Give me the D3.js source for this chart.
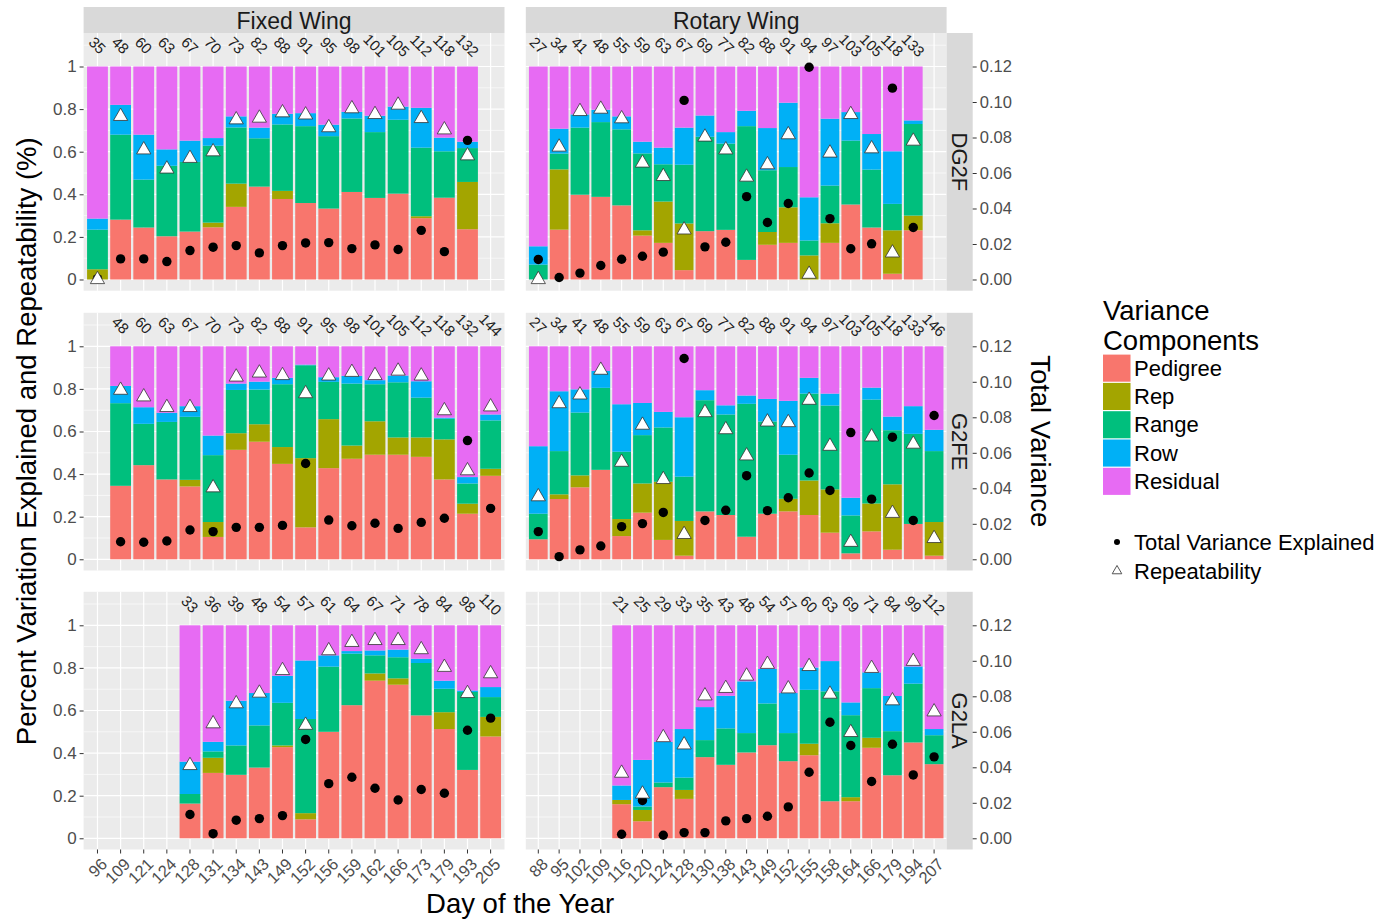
<!DOCTYPE html>
<html>
<head>
<meta charset="utf-8">
<script src="https://cdn.jsdelivr.net/npm/d3@7"></script>
<style>
  body { margin: 0; background: #fff; }
  svg { font-family: "Liberation Sans", Arial, Helvetica, sans-serif; }
</style>
</head>
<body>
<svg id="chart" width="1395" height="921"></svg>
<script>
// x categories (day of the year) for each platform
var fixedDays  = ["96","109","121","124","128","131","134","143","149","152","156","159","162","166","173","179","193","205"];
var rotaryDays = ["88","95","102","109","116","120","124","128","130","138","143","149","152","155","158","164","166","179","194","207"];

var components = ["Pedigree", "Rep", "Range", "Row", "Residual"];
var compColors = ["#F8766D", "#A3A500", "#00BF7D", "#00B0F6", "#E76BF3"];

var yTicks = [0, 0.2, 0.4, 0.6, 0.8, 1];
var varTicks = [0, 0.02, 0.04, 0.06, 0.08, 0.10, 0.12];

// ---- Fixed Wing / DG2F
var fwDg2fDays  = ["96","109","121","124","128","131","134","143","149","152","156","159","162","166","173","179","193"];
var fwDg2fDap   = [35,48,60,63,67,70,73,82,88,91,95,98,101,105,112,118,132];
var fwDg2fPed   = [0,0.281,0.244,0.203,0.225,0.245,0.341,0.436,0.378,0.359,0.333,0.411,0.383,0.403,0.288,0.384,0.236];
var fwDg2fRep   = [0.048,0,0,0,0,0.022,0.109,0,0.038,0,0,0,0,0,0.009,0,0.222];
var fwDg2fRange = [0.186,0.399,0.225,0.331,0.327,0.361,0.264,0.227,0.312,0.361,0.340,0.345,0.309,0.347,0.322,0.218,0.159];
var fwDg2fRow   = [0.052,0.140,0.211,0.077,0.100,0.036,0.052,0.050,0.050,0.061,0.054,0.031,0.077,0.062,0.187,0.064,0.030];
var fwDg2fRepeat = [0,0.766,0.609,0.519,0.569,0.600,0.750,0.758,0.783,0.773,0.713,0.802,0.775,0.819,0.756,0.703,0.581];
var fwDg2fTotVar = [0.0005,0.0116,0.0116,0.0101,0.0163,0.0182,0.0191,0.0150,0.0191,0.0206,0.0208,0.0174,0.0195,0.0169,0.0277,0.0157,0.0784];

// ---- Rotary Wing / DG2F
var rwDg2fDays  = ["88","95","102","109","116","120","124","128","130","138","143","149","152","155","158","164","166","179","194"];
var rwDg2fDap   = [27,34,41,48,55,59,63,67,69,77,82,88,91,94,97,103,105,118,133];
var rwDg2fPed   = [0,0.234,0.398,0.388,0.348,0.206,0.172,0.044,0.227,0.233,0.092,0.163,0.172,0,0.172,0.352,0.244,0.027,0.231];
var rwDg2fRep   = [0,0.283,0,0,0,0.025,0.194,0.219,0,0,0,0.060,0.167,0.113,0.092,0,0,0.204,0.069];
var rwDg2fRange = [0.070,0.074,0.315,0.351,0.357,0.361,0.175,0.276,0.443,0.405,0.628,0.290,0.189,0.070,0.177,0.300,0.272,0.124,0.430];
var rwDg2fRow   = [0.086,0.117,0.062,0.058,0.061,0.055,0.078,0.174,0.100,0.054,0.072,0.198,0.302,0.203,0.314,0.134,0.167,0.247,0.017];
var rwDg2fRepeat = [0,0.622,0.789,0.800,0.755,0.547,0.484,0.233,0.669,0.609,0.481,0.539,0.680,0.025,0.594,0.775,0.614,0.125,0.650];
var rwDg2fTotVar = [0.0113,0.0011,0.0036,0.0079,0.0114,0.0131,0.0154,0.1009,0.0184,0.0210,0.0467,0.0321,0.0428,0.1196,0.0343,0.0173,0.0201,0.1078,0.0293];

// ---- Fixed Wing / G2FE
var fwG2feDays  = ["109","121","124","128","131","134","143","149","152","156","159","162","166","173","179","193","205"];
var fwG2feDap   = [48,60,63,67,70,73,82,88,91,95,98,101,105,112,118,132,144];
var fwG2fePed   = [0.345,0.442,0.375,0.342,0.105,0.514,0.552,0.448,0.150,0.428,0.472,0.491,0.491,0.481,0.375,0.214,0.392];
var fwG2feRep   = [0,0,0,0.031,0.070,0.078,0.082,0.079,0.325,0.230,0.062,0.157,0.081,0.091,0.188,0.047,0.033];
var fwG2feRange = [0.388,0.194,0.270,0.296,0.314,0.203,0.163,0.295,0.436,0.175,0.291,0.174,0.259,0.187,0.097,0.095,0.227];
var fwG2feRow   = [0.081,0.078,0.043,0.050,0.092,0.030,0.037,0.030,0.003,0.022,0.036,0.019,0.032,0.077,0.005,0.030,0.028];
var fwG2feRepeat = [0.794,0.763,0.713,0.713,0.336,0.856,0.875,0.863,0.778,0.861,0.878,0.863,0.884,0.861,0.698,0.416,0.716];
var fwG2feTotVar = [0.0099,0.0096,0.0103,0.0165,0.0156,0.0180,0.0180,0.0191,0.0540,0.0221,0.0189,0.0203,0.0174,0.0208,0.0231,0.0669,0.0287];

// ---- Rotary Wing / G2FE
var rwG2feDays  = ["88","95","102","109","116","120","124","128","130","138","143","149","152","155","158","164","166","179","194","207"];
var rwG2feDap   = [27,34,41,48,55,59,63,67,69,77,82,88,91,94,97,103,105,118,133,146];
var rwG2fePed   = [0.094,0.283,0.338,0.420,0.109,0.219,0.091,0.017,0.225,0.208,0.106,0.214,0.225,0.208,0.125,0.028,0.131,0.045,0.166,0.017];
var rwG2feRep   = [0,0.022,0.056,0,0.080,0.137,0.273,0.163,0,0,0,0,0.059,0.162,0.203,0,0.131,0.307,0,0.158];
var rwG2feRange = [0.120,0.203,0.295,0.385,0.316,0.227,0.255,0.208,0.522,0.472,0.624,0.433,0.207,0.408,0.394,0.178,0.488,0.254,0.423,0.333];
var rwG2feRow   = [0.317,0.281,0.109,0.079,0.223,0.151,0.073,0.279,0.047,0.043,0.039,0.106,0.253,0.074,0.056,0.083,0.056,0.064,0.130,0.100];
var rwG2feRepeat = [0.294,0.731,0.772,0.888,0.456,0.630,0.375,0.117,0.689,0.609,0.486,0.645,0.642,0.747,0.531,0.080,0.575,0.216,0.541,0.098];
var rwG2feTotVar = [0.0156,0.0015,0.0053,0.0075,0.0184,0.0201,0.0264,0.1131,0.0219,0.0276,0.0471,0.0274,0.0347,0.0486,0.0388,0.0714,0.0339,0.0688,0.0219,0.0810];

// ---- Fixed Wing / G2LA
var fwG2laDays  = ["128","131","134","143","149","152","156","159","162","166","173","179","193","205"];
var fwG2laDap   = [33,36,39,48,54,57,61,64,67,71,78,84,98,110];
var fwG2laPed   = [0.163,0.307,0.298,0.332,0.428,0.089,0.500,0.625,0.740,0.721,0.577,0.513,0.321,0.478];
var fwG2laRep   = [0,0.071,0,0,0.008,0.029,0,0,0.034,0.030,0,0.079,0,0.092];
var fwG2laRange = [0.045,0.030,0.138,0.198,0.200,0.442,0.306,0.242,0.085,0.099,0.246,0.110,0.366,0.093];
var fwG2laRow   = [0.152,0.045,0.210,0.152,0.127,0.275,0.053,0.012,0.023,0.036,0.020,0.038,0.007,0.047];
var fwG2laRepeat = [0.342,0.538,0.632,0.682,0.788,0.531,0.881,0.920,0.929,0.929,0.886,0.803,0.680,0.773];
var fwG2laTotVar = [0.0134,0.0026,0.0102,0.0111,0.0128,0.0557,0.0308,0.0344,0.0282,0.0216,0.0275,0.0254,0.0609,0.0677];

// ---- Rotary Wing / G2LA
var rwG2laDays  = ["116","120","124","128","130","138","143","149","152","155","158","164","166","179","194","207"];
var rwG2laDap   = [21,25,29,33,35,43,48,54,57,60,63,69,71,84,99,112];
var rwG2laPed   = [0.160,0.080,0.240,0.185,0.381,0.345,0.403,0.437,0.362,0.390,0.174,0.174,0.425,0.296,0.450,0.348];
var rwG2laRep   = [0.020,0.053,0,0.042,0,0,0,0,0,0.054,0,0.019,0.047,0,0,0];
var rwG2laRange = [0,0.016,0.022,0.058,0.080,0.171,0.091,0.196,0.132,0.253,0.516,0.385,0.233,0.207,0.276,0.136];
var rwG2laRow   = [0.068,0.219,0.191,0.228,0.155,0.153,0.243,0.162,0.188,0.105,0.142,0.060,0.074,0.165,0.081,0.029];
var rwG2laRepeat = [0.306,0.208,0.473,0.439,0.669,0.704,0.762,0.817,0.702,0.807,0.677,0.497,0.798,0.646,0.831,0.594];
var rwG2laTotVar = [0.0023,0.0213,0.0017,0.0032,0.0032,0.0098,0.0111,0.0124,0.0177,0.0372,0.0654,0.0523,0.0320,0.0530,0.0357,0.0459];

var colTitles = ["Fixed Wing", "Rotary Wing"];
var rowTitles = ["DG2F", "G2FE", "G2LA"];

// layout
var colRange = [[83.6, 504.5], [525.8, 946.6]],
    rowTop = [33, 312.8, 591.8],
    panelH = 257.7,
    stripW = 26.1,
    yDomain = [-0.0526, 1.1573],
    varMax = 0.12;

var panels = [
  {col: 0, row: 0, days: fwDg2fDays, dap: fwDg2fDap, ped: fwDg2fPed, rep: fwDg2fRep, range: fwDg2fRange, rowv: fwDg2fRow, repeat: fwDg2fRepeat, totvar: fwDg2fTotVar},
  {col: 1, row: 0, days: rwDg2fDays, dap: rwDg2fDap, ped: rwDg2fPed, rep: rwDg2fRep, range: rwDg2fRange, rowv: rwDg2fRow, repeat: rwDg2fRepeat, totvar: rwDg2fTotVar},
  {col: 0, row: 1, days: fwG2feDays, dap: fwG2feDap, ped: fwG2fePed, rep: fwG2feRep, range: fwG2feRange, rowv: fwG2feRow, repeat: fwG2feRepeat, totvar: fwG2feTotVar},
  {col: 1, row: 1, days: rwG2feDays, dap: rwG2feDap, ped: rwG2fePed, rep: rwG2feRep, range: rwG2feRange, rowv: rwG2feRow, repeat: rwG2feRepeat, totvar: rwG2feTotVar},
  {col: 0, row: 2, days: fwG2laDays, dap: fwG2laDap, ped: fwG2laPed, rep: fwG2laRep, range: fwG2laRange, rowv: fwG2laRow, repeat: fwG2laRepeat, totvar: fwG2laTotVar},
  {col: 1, row: 2, days: rwG2laDays, dap: rwG2laDap, ped: rwG2laPed, rep: rwG2laRep, range: rwG2laRange, rowv: rwG2laRow, repeat: rwG2laRepeat, totvar: rwG2laTotVar}
];

var svg = d3.select("#chart");

var xScales = [fixedDays, rotaryDays].map(function(days, c) {
  return d3.scaleBand().domain(days).range(colRange[c]).paddingInner(0.1).paddingOuter(0.15);
});

var yScales = rowTop.map(function(t) {
  return d3.scaleLinear().domain(yDomain).range([t + panelH, t]);
});
var varScales = rowTop.map(function(t) {
  return d3.scaleLinear().domain([yDomain[0] * varMax, yDomain[1] * varMax]).range([t + panelH, t]);
});

var color = d3.scaleOrdinal().domain(components).range(compColors);
var stack = d3.stack().keys(components);

function styleAxis(g, size) {
  g.select(".domain").remove();
  g.selectAll(".tick line").attr("stroke", "#333").attr("stroke-width", 1);
  g.selectAll(".tick text").attr("fill", "#4D4D4D").style("font-size", size + "px");
}

panels.forEach(function(p) {
  var x = xScales[p.col], y = yScales[p.row], yv = varScales[p.row];
  var x0 = colRange[p.col][0], x1 = colRange[p.col][1];
  var top = rowTop[p.row];
  var g = svg.append("g").attr("class", "panel");

  g.append("rect")
    .attr("x", x0).attr("y", top)
    .attr("width", x1 - x0).attr("height", panelH)
    .attr("fill", "#EBEBEB");

  // grid
  g.selectAll("line.minor").data([0.1, 0.3, 0.5, 0.7, 0.9, 1.1]).enter().append("line")
    .attr("x1", x0).attr("x2", x1)
    .attr("y1", function(d) { return y(d); }).attr("y2", function(d) { return y(d); })
    .attr("stroke", "#fff").attr("stroke-width", 0.6);
  g.selectAll("line.major").data(yTicks).enter().append("line")
    .attr("x1", x0).attr("x2", x1)
    .attr("y1", function(d) { return y(d); }).attr("y2", function(d) { return y(d); })
    .attr("stroke", "#fff").attr("stroke-width", 1.2);
  g.selectAll("line.vgrid").data(x.domain()).enter().append("line")
    .attr("x1", function(d) { return x(d) + x.bandwidth() / 2; })
    .attr("x2", function(d) { return x(d) + x.bandwidth() / 2; })
    .attr("y1", top).attr("y2", top + panelH)
    .attr("stroke", "#fff").attr("stroke-width", 1.2);

  var records = p.days.map(function(d, i) {
    var r = {day: d, Pedigree: p.ped[i], Rep: p.rep[i], Range: p.range[i], Row: p.rowv[i]};
    r.Residual = Math.max(0, 1 - r.Pedigree - r.Rep - r.Range - r.Row);
    return r;
  });

  g.selectAll("g.layer").data(stack(records)).enter().append("g")
    .attr("fill", function(s) { return color(s.key); })
    .selectAll("rect").data(function(s) { return s; }).enter().append("rect")
      .attr("x", function(d) { return x(d.data.day); })
      .attr("width", x.bandwidth())
      .attr("y", function(d) { return y(d[1]); })
      .attr("height", function(d) { return Math.max(0, y(d[0]) - y(d[1])); });

  // total variance (right axis)
  g.selectAll("circle.tv").data(p.days).enter().append("circle")
    .attr("cx", function(d) { return x(d) + x.bandwidth() / 2; })
    .attr("cy", function(d, i) { return yv(p.totvar[i]); })
    .attr("r", 4.7)
    .attr("fill", "#000");

  // repeatability
  var tri = d3.symbol().type(d3.symbolTriangle).size(88);
  g.selectAll("path.rp").data(p.days).enter().append("path")
    .attr("d", tri)
    .attr("transform", function(d, i) { return "translate(" + (x(d) + x.bandwidth() / 2) + "," + y(p.repeat[i]) + ")"; })
    .attr("fill", "#fff").attr("stroke", "#333").attr("stroke-width", 0.8);

  // days after planting labels
  g.selectAll("text.dap").data(p.days).enter().append("text")
    .attr("transform", function(d, i) { return "translate(" + (x(d) + x.bandwidth() / 2) + "," + y(1.1) + ") rotate(45)"; })
    .attr("text-anchor", "middle")
    .attr("dominant-baseline", "central")
    .style("font-size", "15px")
    .attr("fill", "#222")
    .text(function(d, i) { return p.dap[i]; });
});

// column strips
colTitles.forEach(function(t, c) {
  svg.append("rect")
    .attr("x", colRange[c][0]).attr("y", 7)
    .attr("width", colRange[c][1] - colRange[c][0]).attr("height", 26)
    .attr("fill", "#D9D9D9");
  svg.append("text")
    .attr("x", (colRange[c][0] + colRange[c][1]) / 2).attr("y", 20.5)
    .attr("text-anchor", "middle").attr("dominant-baseline", "central")
    .attr("fill", "#1A1A1A").style("font-size", "23px")
    .text(t);
});

// row strips + axes
rowTitles.forEach(function(t, r) {
  var sx = colRange[1][1];
  svg.append("rect")
    .attr("x", sx).attr("y", rowTop[r])
    .attr("width", stripW).attr("height", panelH)
    .attr("fill", "#D9D9D9");
  svg.append("text")
    .attr("transform", "translate(" + (sx + stripW / 2) + "," + (rowTop[r] + panelH / 2) + ") rotate(90)")
    .attr("text-anchor", "middle").attr("dominant-baseline", "central")
    .attr("fill", "#1A1A1A").style("font-size", "22px")
    .text(t);

  svg.append("g")
    .attr("transform", "translate(" + colRange[0][0] + ",0)")
    .call(d3.axisLeft(yScales[r]).tickValues(yTicks).tickSize(4).tickPadding(3)
      .tickFormat(function(d) { return d === 0 || d === 1 ? String(d) : d3.format(".1f")(d); }))
    .call(styleAxis, 17);

  svg.append("g")
    .attr("transform", "translate(" + (sx + stripW) + ",0)")
    .call(d3.axisRight(varScales[r]).tickValues(varTicks).tickSize(4).tickPadding(3)
      .tickFormat(d3.format(".2f")))
    .call(styleAxis, 16.5);
});

// bottom x axes
xScales.forEach(function(x) {
  var ax = svg.append("g")
    .attr("transform", "translate(0," + (rowTop[2] + panelH) + ")")
    .call(d3.axisBottom(x).tickSize(4).tickPadding(3))
    .call(styleAxis, 16.5);
  ax.selectAll(".tick text")
    .attr("y", 0).attr("x", 0).attr("dy", "0.75em")
    .attr("transform", "translate(2,7) rotate(-45)")
    .style("text-anchor", "end");
});

// axis titles
var midY = (rowTop[0] + rowTop[2] + panelH) / 2;
svg.append("text")
  .attr("transform", "translate(36," + midY + ") rotate(-90)")
  .attr("text-anchor", "middle")
  .style("font-size", "27.5px")
  .text("Percent Variation Explained and Repeatability (%)");

svg.append("text")
  .attr("transform", "translate(1031," + midY + ") rotate(90)")
  .attr("text-anchor", "middle")
  .style("font-size", "27.5px")
  .text("Total Variance");

svg.append("text")
  .attr("x", (colRange[0][0] + colRange[1][1]) / 2 + 5).attr("y", 913)
  .attr("text-anchor", "middle")
  .style("font-size", "27.5px")
  .text("Day of the Year");

// legend
var lg = svg.append("g").attr("transform", "translate(1103,0)");
lg.append("text").attr("x", 0).attr("y", 320).style("font-size", "27.5px").text("Variance");
lg.append("text").attr("x", 0).attr("y", 350).style("font-size", "27.5px").text("Components");

var keyH = 28.3;
lg.selectAll("rect.key").data(components).enter().append("rect")
  .attr("x", 0).attr("y", function(d, i) { return 354 + i * keyH + 0.6; })
  .attr("width", 27.5).attr("height", keyH - 1.2)
  .attr("fill", function(d) { return color(d); });
lg.selectAll("text.key").data(components).enter().append("text")
  .attr("x", 31).attr("y", function(d, i) { return 354 + i * keyH + keyH / 2; })
  .attr("dominant-baseline", "central")
  .style("font-size", "22px")
  .text(function(d) { return d; });

lg.append("circle").attr("cx", 14).attr("cy", 542).attr("r", 3).attr("fill", "#000");
lg.append("text").attr("x", 31).attr("y", 542).attr("dominant-baseline", "central")
  .style("font-size", "22px").text("Total Variance Explained");
lg.append("path")
  .attr("d", d3.symbol().type(d3.symbolTriangle).size(40))
  .attr("transform", "translate(14,571)")
  .attr("fill", "none").attr("stroke", "#555").attr("stroke-width", 1);
lg.append("text").attr("x", 31).attr("y", 571).attr("dominant-baseline", "central")
  .style("font-size", "22px").text("Repeatability");
</script>
</body>
</html>
